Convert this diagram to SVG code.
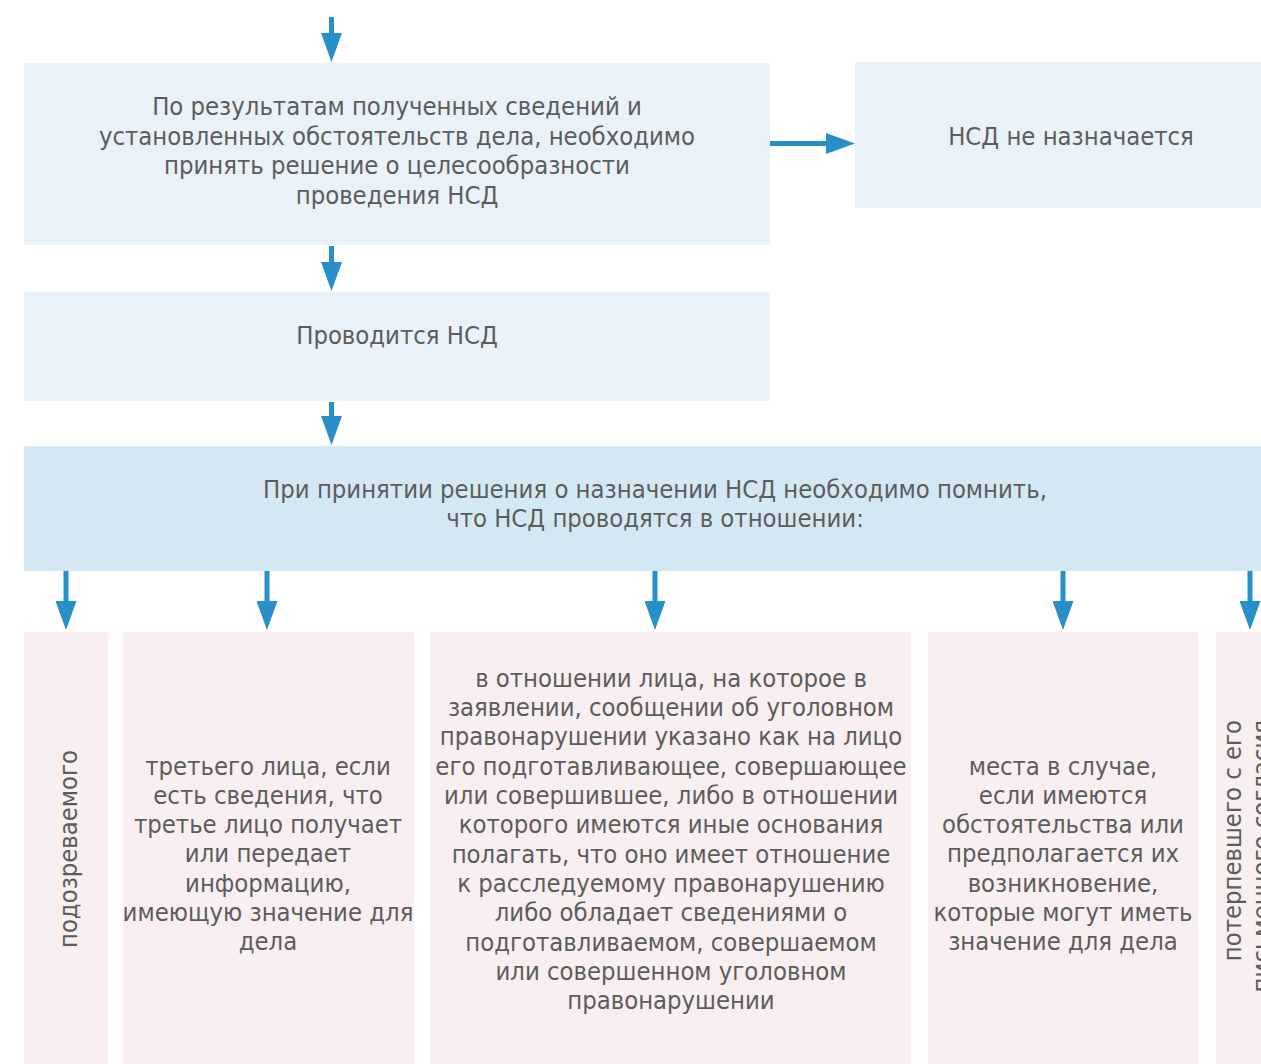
<svg xmlns="http://www.w3.org/2000/svg" width="1261" height="1064" viewBox="0 0 1261 1064">
<defs>
<marker id="ah" viewBox="0 0 29 21" refX="1" refY="10.5" markerWidth="29" markerHeight="21" markerUnits="userSpaceOnUse" orient="auto">
<path d="M0,0 L29,10.5 L0,21 z" fill="#2790c9"/>
</marker>
<style>
.t{font-family:"DejaVu Sans Condensed","DejaVu Sans",sans-serif;font-size:25.4px;fill:#5c5c5c;text-anchor:middle}
.b1{fill:#e9f1f9}
.b3{fill:#d4e8f3}
.p{fill:#f9eef0}
.c{stroke:#2790c9;stroke-width:5;fill:none;marker-end:url(#ah)}
</style>
</defs>
<rect width="1261" height="1064" fill="#ffffff"/>
<g id="connectors">
<line class="c" x1="331.5" y1="17" x2="331.5" y2="34"/>
<line class="c" x1="770" y1="143.5" x2="827" y2="143.5"/>
<line class="c" x1="331.5" y1="246" x2="331.5" y2="263"/>
<line class="c" x1="331.5" y1="402" x2="331.5" y2="417"/>
<line class="c" x1="66" y1="571" x2="66" y2="602"/>
<line class="c" x1="267" y1="571" x2="267" y2="602"/>
<line class="c" x1="655" y1="571" x2="655" y2="602"/>
<line class="c" x1="1063" y1="571" x2="1063" y2="602"/>
<line class="c" x1="1250" y1="571" x2="1250" y2="602"/>
</g>
<g id="n1">
<rect class="b1" x="24" y="63" width="746" height="182"/>
<text class="t" x="397" y="115">По результатам полученных сведений и</text>
<text class="t" x="397" y="144.5">установленных обстоятельств дела, необходимо</text>
<text class="t" x="397" y="174">принять решение о целесообразности</text>
<text class="t" x="397" y="203.5">проведения НСД</text>
</g>
<g id="n2">
<rect class="b1" x="855" y="62" width="406" height="146"/>
<text class="t" x="1071" y="144.5">НСД не назначается</text>
</g>
<g id="n3">
<rect class="b1" x="24" y="292" width="746" height="109"/>
<text class="t" x="397" y="344">Проводится НСД</text>
</g>
<g id="n4">
<rect class="b3" x="24" y="446" width="1237" height="125"/>
<text class="t" x="655" y="498">При принятии решения о назначении НСД необходимо помнить,</text>
<text class="t" x="655" y="527">что НСД проводятся в отношении:</text>
</g>
<g id="n5">
<rect class="p" x="24" y="632" width="84" height="432"/>
<text class="t" transform="translate(77 849) rotate(-90)">подозреваемого</text>
</g>
<g id="n6">
<rect class="p" x="123" y="632" width="291" height="432"/>
<text class="t" x="268" y="774.5">третьего лица, если</text>
<text class="t" x="268" y="803.8">есть сведения, что</text>
<text class="t" x="268" y="833.1">третье лицо получает</text>
<text class="t" x="268" y="862.4">или передает</text>
<text class="t" x="268" y="891.7">информацию,</text>
<text class="t" x="268" y="921">имеющую значение для</text>
<text class="t" x="268" y="950.3">дела</text>
</g>
<g id="n7">
<rect class="p" x="430" y="632" width="481" height="432"/>
<text class="t" x="671" y="686.8">в отношении лица, на которое в</text>
<text class="t" x="671" y="716.1">заявлении, сообщении об уголовном</text>
<text class="t" x="671" y="745.4">правонарушении указано как на лицо</text>
<text class="t" x="671" y="774.7">его подготавливающее, совершающее</text>
<text class="t" x="671" y="804">или совершившее, либо в отношении</text>
<text class="t" x="671" y="833.3">которого имеются иные основания</text>
<text class="t" x="671" y="862.6">полагать, что оно имеет отношение</text>
<text class="t" x="671" y="891.9">к расследуемому правонарушению</text>
<text class="t" x="671" y="921.2">либо обладает сведениями о</text>
<text class="t" x="671" y="950.5">подготавливаемом, совершаемом</text>
<text class="t" x="671" y="979.8">или совершенном уголовном</text>
<text class="t" x="671" y="1009.1">правонарушении</text>
</g>
<g id="n8">
<rect class="p" x="928" y="632" width="270" height="432"/>
<text class="t" x="1063" y="774.5">места в случае,</text>
<text class="t" x="1063" y="803.8">если имеются</text>
<text class="t" x="1063" y="833.1">обстоятельства или</text>
<text class="t" x="1063" y="862.4">предполагается их</text>
<text class="t" x="1063" y="891.7">возникновение,</text>
<text class="t" x="1063" y="921">которые могут иметь</text>
<text class="t" x="1063" y="950.3">значение для дела</text>
</g>
<g id="n9">
<rect class="p" x="1216" y="632" width="45" height="432"/>
<text class="t" style="text-anchor:end" transform="translate(1241 720) rotate(-90)">потерпевшего с его</text>
<text class="t" style="text-anchor:end" transform="translate(1270 720) rotate(-90)">письменного согласия</text>
</g>
</svg>
